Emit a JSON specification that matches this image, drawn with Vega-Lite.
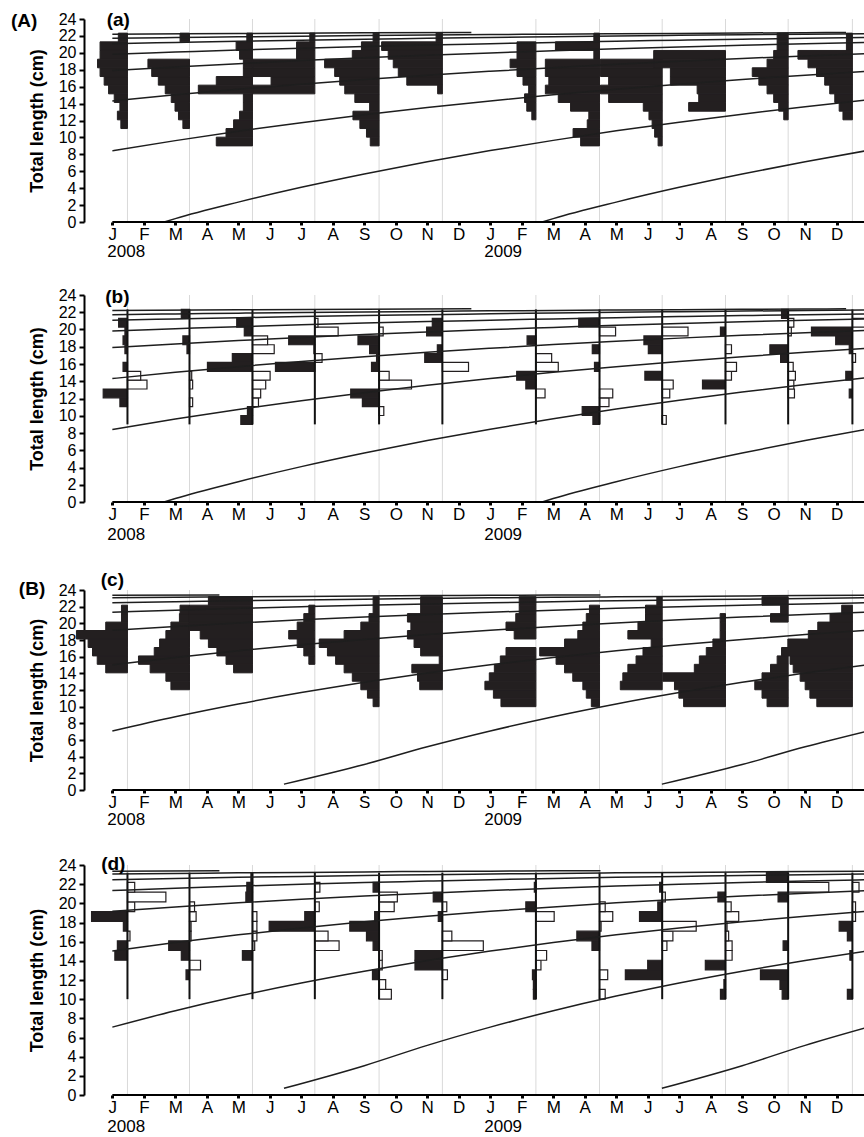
{
"$schema": "https://vega.github.io/schema/vega-lite/v6.json",
"padding": {"left": 10, "top": 11, "right": 0, "bottom": 2},
"spacing": 27,
"config": {"font": "Liberation Sans", "view": {"stroke": null},
 "axis": {"labelFont": "Liberation Sans", "titleFont": "Liberation Sans", "labelOverlap": false, "labelFlush": false, "grid": false, "labelColor": "#000", "tickColor": "#000", "titleColor": "#000"},
 "axisX": {"domain": false, "tickSize": 3, "tickWidth": 3, "labelPadding": 1, "labelFontSize": 17},
 "axisY": {"domain": true, "domainColor": "#000", "domainWidth": 2, "tickSize": 5, "tickWidth": 2, "labelPadding": 3, "labelFontSize": 16, "titleFontSize": 18, "titleFontWeight": "bold", "titlePadding": 12}},
"datasets": {
"samples": [{"s":0.48},{"s":2.45},{"s":4.45},{"s":6.43},{"s":8.47},{"s":10.48},{"s":13.45},{"s":15.47},{"s":17.46},{"s":19.47},{"s":21.46},{"s":23.5}],
"cls": [
{"g":"AB","lo":[9,10.03,11.05,12.08,13.1,14.13,15.15,16.18,17.2,18.23,19.25,20.28,21.3],"hi":[10.03,11.05,12.08,13.1,14.13,15.15,16.18,17.2,18.23,19.25,20.28,21.3,22.33]},
{"g":"CD","lo":[10,11.02,12.03,13.05,14.06,15.08,16.09,17.1,18.12,19.14,20.15,21.17,22.18],"hi":[11.02,12.03,13.05,14.06,15.08,16.09,17.1,18.12,19.14,20.15,21.17,22.18,23.2]}
],
"bars": [
{"p":"a","g":"AB","s":0.48,"f":[0,0,0.21,0.32,0.24,0.42,0.6,0.74,0.87,0.95,0.87,0.87,0.29]},
{"p":"a","g":"AB","s":2.45,"f":[0,0,0.21,0.35,0.46,0.58,0.77,0.99,1.2,1.32,0,0,0.3]},
{"p":"a","g":"AB","s":4.45,"f":[1.15,0.84,0.6,0.41,0.29,0.29,1.72,1.15,0.29,0.29,0.41,0.52,0.18]},
{"p":"a","g":"AB","s":6.43,"f":[0,0,0,0,0,0,1.97,1.39,1.97,1.97,0.58,0.58,0.16]},
{"p":"a","g":"AB","s":8.47,"f":[0.28,0.4,0.61,0.83,0.3,0.77,1.09,1.25,1.41,1.73,0.85,0.56,0.19]},
{"p":"a","g":"AB","s":10.48,"f":[0,0,0,0,0,0,0.15,1.13,1.4,1.56,1.72,1.93,0.2]},
{"p":"a","g":"AB","s":13.45,"f":[0,0,0,0.13,0.29,0.36,0.23,0.41,0.6,0.82,0.6,0.6,0]},
{"p":"a","g":"AB","s":15.47,"f":[0.6,0.84,0.39,0.34,0.92,1.31,1.72,1.61,1.72,1.72,0.18,1.4,0.18]},
{"p":"a","g":"AB","s":17.46,"f":[0.13,0.24,0.32,0.42,0.6,1.7,1.96,1.7,1.96,1.96,0,0,0]},
{"p":"a","g":"AB","s":19.47,"f":[0,0,0,0,1.17,0.85,0.9,1.75,1.75,2.28,2.28,0,0]},
{"p":"a","g":"AB","s":21.46,"f":[0,0,0,0.14,0.3,0.46,0.67,0.93,1.14,0.67,0.46,0.35,0.35]},
{"p":"a","g":"AB","s":23.5,"f":[0,0,0,0.3,0.42,0.56,0.72,0.88,1.14,1.41,1.73,0.19,0.19]},
{"p":"b","g":"AB","s":0.48,"f":[0,0,0.24,0.77,-0.62,-0.42,0.14,0,0.08,0.14,0.08,0.28,0]},
{"p":"b","g":"AB","s":2.45,"f":[0,0,-0.1,0,-0.1,-0.07,0,0,0.08,0.21,0,0,0.26]},
{"p":"b","g":"AB","s":4.45,"f":[0.37,0.16,-0.19,-0.26,-0.42,-0.56,1.43,0.64,-0.69,-0.48,0.26,0.5,0]},
{"p":"b","g":"AB","s":6.43,"f":[0,0,0,0,0,0,1.25,-0.23,0.03,0.83,-0.74,-0.1,0]},
{"p":"b","g":"AB","s":8.47,"f":[0,-0.15,0.53,0.9,-1.03,-0.32,0.24,0.08,0.3,0.67,-0.13,0,0]},
{"p":"b","g":"AB","s":10.48,"f":[0,0,0,0,0,0,-0.83,0.56,0.16,0,0.5,0.32,0]},
{"p":"b","g":"AB","s":13.45,"f":[0,0,0,-0.29,0.32,0.61,-0.71,-0.5,0,0.28,0,0,0]},
{"p":"b","g":"AB","s":15.47,"f":[0.21,0.55,-0.3,-0.42,0,0,0.16,0,0.23,0,-0.51,0.66,0]},
{"p":"b","g":"AB","s":17.46,"f":[-0.13,0,0,-0.24,-0.35,0.55,0,0,0.44,0.58,-0.82,0,0]},
{"p":"b","g":"AB","s":19.47,"f":[0,0,0,0,0.73,-0.19,-0.35,0,-0.19,0,0.16,0,0]},
{"p":"b","g":"AB","s":21.46,"f":[0,0,0,-0.2,-0.18,-0.23,-0.16,0.24,0.58,0,-0.1,-0.18,0.21]},
{"p":"b","g":"AB","s":23.5,"f":[0,0,0,0.1,0,0.21,0,-0.1,0.1,0.53,1.3,-0.48,0]},
{"p":"c","g":"CD","s":0.48,"f":[0,0,0,0,0.69,0.96,1.11,1.25,1.62,0.69,0.19,0.19,0]},
{"p":"c","g":"CD","s":2.45,"f":[0,0,0.59,0.75,1.25,1.62,1.12,0.95,0.75,0.59,0.32,0.3,0]},
{"p":"c","g":"CD","s":4.45,"f":[0,0,0,0,0.6,0.84,1.13,1.4,1.66,2.0,2.0,2.0,1.4]},
{"p":"c","g":"CD","s":6.43,"f":[0,0,0,0,0,0.19,0.35,0.56,0.83,0.56,0.35,0.19,0]},
{"p":"c","g":"CD","s":8.47,"f":[0.19,0.37,0.58,0.85,1.11,1.38,1.64,1.9,1.11,0.58,0.32,0.19,0.19]},
{"p":"c","g":"CD","s":10.48,"f":[0,0,0.72,0.79,0.97,0.1,0.69,0.9,1.11,1.0,1.11,0.69,0.69]},
{"p":"c","g":"CD","s":13.45,"f":[1.11,1.35,1.62,1.48,1.32,1.13,0.95,0,0.69,0.95,0.64,0.53,0.53]},
{"p":"c","g":"CD","s":15.47,"f":[0.26,0.42,0.53,0.85,1.11,1.38,1.9,1.11,0.69,0.53,0.42,0.32,0]},
{"p":"c","g":"CD","s":17.46,"f":[0,0,1.33,1.25,1.09,0.83,0.61,0.35,1.09,0.77,0.53,0.53,0.17]},
{"p":"c","g":"CD","s":19.47,"f":[1.33,1.48,1.62,1.99,0.99,0.83,0.61,0.4,0.17,0.17,0.17,0,0]},
{"p":"c","g":"CD","s":21.46,"f":[0.67,0.83,1.06,0.83,0.56,0.35,0,0,0,0,0.56,0.24,0.83]},
{"p":"c","g":"CD","s":23.5,"f":[1.13,1.35,1.5,1.66,1.88,1.98,2.25,2.05,1.4,1.1,0.71,0.34,0]},
{"p":"d","g":"CD","s":0.48,"f":[0,0,0,0,0.4,0.32,-0.08,0.13,1.14,-0.23,-1.22,-0.23,0]},
{"p":"d","g":"CD","s":2.45,"f":[0,0,0.11,-0.35,0.26,0.66,-0.05,-0.05,-0.21,-0.16,0,0,0]},
{"p":"d","g":"CD","s":4.45,"f":[0,0,0,0,0.32,-0.07,-0.14,-0.14,-0.14,0,0.21,0.18,0.05]},
{"p":"d","g":"CD","s":6.43,"f":[0,0,0,0,0,-0.77,-0.42,1.45,0.32,-0.14,0,-0.16,0]},
{"p":"d","g":"CD","s":8.47,"f":[-0.39,-0.21,0.21,-0.1,-0.1,0.19,0.4,0.93,0.14,-0.48,-0.58,0.19,0]},
{"p":"d","g":"CD","s":10.48,"f":[0,0,-0.16,0.87,0.87,-1.3,-0.3,0,0.13,-0.14,0.29,0,0]},
{"p":"d","g":"CD","s":13.45,"f":[0.08,0.08,0.11,-0.16,-0.34,0,0,0,-0.58,0.32,0,0.05,0]},
{"p":"d","g":"CD","s":15.47,"f":[-0.18,0,-0.26,0,0,0.24,0.72,-0.05,-0.42,-0.18,0,0,0]},
{"p":"d","g":"CD","s":17.46,"f":[0,0,1.17,0.46,0,-0.15,-0.34,-1.08,0.72,0.14,-0.1,0.08,0]},
{"p":"d","g":"CD","s":19.47,"f":[0.16,0.05,0,0.64,-0.21,-0.21,-0.1,-0.05,-0.42,-0.18,0.24,0,0]},
{"p":"d","g":"CD","s":21.46,"f":[0.19,0.26,0.88,0,0,0.16,0,0,0,0,0.32,-1.29,0.69]},
{"p":"d","g":"CD","s":23.5,"f":[0.16,0,0,0,0.08,0,0.16,0.42,-0.1,-0.1,0,-0.21,0]}
],
"curves": [
{"g":"AB","c":"2001","t":[0,4,8,11.4],"L":[22.2,22.28,22.36,22.4]},
{"g":"AB","c":"2002","t":[0,2,4,6,8,10,12,14,16,18,20,22,23.3],"L":[21.72,21.81,21.89,21.97,22.04,22.1,22.16,22.21,22.26,22.3,22.35,22.38,22.4]},
{"g":"AB","c":"2003","t":[0,2,4,6,8,10,12,14,16,18,20,22,23.9],"L":[21.08,21.23,21.37,21.5,21.61,21.72,21.82,21.91,21.99,22.07,22.14,22.2,22.26]},
{"g":"AB","c":"2004","t":[0,2,4,6,8,10,12,14,16,18,20,22,23.9],"L":[19.84,20.09,20.33,20.54,20.74,20.92,21.08,21.23,21.37,21.5,21.61,21.72,21.81]},
{"g":"AB","c":"2005","t":[0,2,4,6,8,10,12,14,16,18,20,22,23.9],"L":[17.9,18.33,18.72,19.08,19.41,19.71,19.99,20.24,20.48,20.69,20.89,21.07,21.22]},
{"g":"AB","c":"2006","t":[0,2,4,6,8,10,12,14,16,18,20,22,23.9],"L":[14.31,15.03,15.69,16.3,16.85,17.36,17.82,18.25,18.64,19.0,19.33,19.63,19.9]},
{"g":"AB","c":"2007","t":[0,2,4,6,8,10,12,14,16,18,20,22,23.9],"L":[8.41,9.62,10.73,11.74,12.68,13.53,14.31,15.03,15.69,16.3,16.85,17.36,17.81]},
{"g":"AB","c":"2008","t":[1.65,2,4,6,8,10,12,14,16,18,20,22,23.9],"L":[0,0.4,2.35,4.1,5.68,7.12,8.44,9.65,10.78,11.8,12.75,13.62,14.4]},
{"g":"AB","c":"2009","t":[13.65,14,16,18,20,22,23.9],"L":[0,0.4,2.35,4.1,5.68,7.12,8.4]},
{"g":"CD","c":"2001","t":[0,3.4],"L":[23.36,23.4]},
{"g":"CD","c":"2002","t":[0,2,4,6,8,10,12,14,15.5],"L":[23.06,23.12,23.18,23.23,23.28,23.33,23.36,23.39,23.41]},
{"g":"CD","c":"2003","t":[0,2,4,6,8,10,12,14,16,18,20,22,23.9],"L":[22.47,22.59,22.71,22.81,22.9,22.98,23.06,23.12,23.18,23.23,23.28,23.33,23.36]},
{"g":"CD","c":"2004","t":[0,2,4,6,8,10,12,14,16,18,20,22,23.9],"L":[21.33,21.58,21.8,21.99,22.17,22.32,22.47,22.59,22.71,22.81,22.9,22.98,23.06]},
{"g":"CD","c":"2005","t":[0,2,4,6,8,10,12,14,16,18,20,22,23.9],"L":[19.17,19.63,20.05,20.43,20.76,21.06,21.33,21.58,21.8,21.99,22.17,22.32,22.46]},
{"g":"CD","c":"2006","t":[0,2,4,6,8,10,12,14,16,18,20,22,23.9],"L":[15.02,15.91,16.71,17.43,18.07,18.65,19.17,19.63,20.05,20.43,20.76,21.06,21.32]},
{"g":"CD","c":"2007","t":[0,2,4,6,8,10,12,14,16,18,20,22,23.9],"L":[7.08,8.79,10.32,11.69,12.92,14.03,15.02,15.91,16.71,17.43,18.07,18.65,19.15]},
{"g":"CD","c":"2008","t":[5.45,8,10,12,14,16,18,20,22,23.9],"L":[0.7,3.06,5.18,7.08,8.79,10.32,11.69,12.92,14.03,14.99]},
{"g":"CD","c":"2009","t":[17.45,20,22,23.9],"L":[0.7,3.06,5.18,6.99]}
]
},
"vconcat": [
{
"width": 781, "height": 203,
"layer": [
{"data": {"name": "curves"}, "transform": [{"filter": "datum.g === 'AB'"}, {"flatten": ["t", "L"]}],
 "mark": {"type": "line", "opacity": 0},
 "encoding": {
  "x": {"field": "t", "type": "quantitative", "scale": {"domain": [-0.9, 23.9]}, "axis": {"values": [0,1,2,3,4,5,6,7,8,9,10,11,12,13,14,15,16,17,18,19,20,21,22,23], "tickCount": 40, "labelExpr": "['J','F','M','A','M','J','J','A','S','O','N','D'][datum.value % 12]", "title": null}},
  "y": {"field": "L", "type": "quantitative", "scale": {"domain": [0, 24]}, "axis": {"values": [0,2,4,6,8,10,12,14,16,18,20,22,24], "tickCount": 40, "format": "d", "title": "Total length (cm)"}},
  "detail": {"field": "c", "type": "nominal"}}},
{"data": {"name": "samples"}, "mark": {"type": "rule", "color": "#d9d9d9", "strokeWidth": 1},
 "encoding": {"x": {"field": "s", "type": "quantitative", "scale": {"domain": [-0.9, 23.9]}}, "y": {"datum": 0, "type": "quantitative", "scale": {"domain": [0, 24]}}, "y2": {"datum": 24}}},
{"data": {"name": "bars"},
 "transform": [{"filter": "datum.p === 'a'"}, {"lookup": "g", "from": {"data": {"name": "cls"}, "key": "g", "fields": ["lo", "hi"]}}, {"flatten": ["f", "lo", "hi"]}, {"filter": "datum.f !== 0"}, {"calculate": "datum.s - datum.f", "as": "e"}],
 "mark": {"type": "rect", "stroke": "#231f20", "strokeWidth": 1},
 "encoding": {"x": {"field": "s", "type": "quantitative", "scale": {"domain": [-0.9, 23.9]}}, "x2": {"field": "e"}, "y": {"field": "lo", "type": "quantitative", "scale": {"domain": [0, 24]}}, "y2": {"field": "hi"},
  "fill": {"condition": {"test": "datum.f > 0", "value": "#231f20"}, "value": "#ffffff"}}},
{"data": {"name": "curves"}, "transform": [{"filter": "datum.g === 'AB'"}, {"flatten": ["t", "L"]}],
 "mark": {"type": "line", "color": "#1e1e1e", "strokeWidth": 1.5, "interpolate": "monotone"},
 "encoding": {"x": {"field": "t", "type": "quantitative", "scale": {"domain": [-0.9, 23.9]}}, "y": {"field": "L", "type": "quantitative", "scale": {"domain": [0, 24]}}, "detail": {"field": "c", "type": "nominal"}}},
{"data": {"values": [{}]}, "mark": {"type": "rule", "color": "#000", "strokeWidth": 2},
 "encoding": {"x": {"datum": 0, "type": "quantitative", "scale": {"domain": [-0.9, 23.9]}}, "x2": {"datum": 23.9}, "y": {"datum": 0, "type": "quantitative", "scale": {"domain": [0, 24]}}}},
{"data": {"values": [{}]}, "mark": {"type": "text", "fontSize": 19, "fontWeight": "bold", "color": "#000", "align": "center", "baseline": "middle"},
 "encoding": {"x": {"datum": 0.19, "type": "quantitative", "scale": {"domain": [-0.9, 23.9]}}, "y": {"datum": 23.88, "type": "quantitative", "scale": {"domain": [0, 24]}}, "text": {"value": "(a)"}}},
{"data": {"values": [{}]}, "mark": {"type": "text", "fontSize": 19, "fontWeight": "bold", "color": "#000", "align": "center", "baseline": "middle"},
 "encoding": {"x": {"datum": -2.8, "type": "quantitative", "scale": {"domain": [-0.9, 23.9]}}, "y": {"datum": 23.76, "type": "quantitative", "scale": {"domain": [0, 24]}}, "text": {"value": "(A)"}}},
{"data": {"values": [{}]}, "mark": {"type": "text", "fontSize": 17, "color": "#000", "align": "left", "baseline": "top", "dx": -5, "dy": 22},
 "encoding": {"x": {"datum": 0, "type": "quantitative", "scale": {"domain": [-0.9, 23.9]}}, "y": {"datum": 0, "type": "quantitative", "scale": {"domain": [0, 24]}}, "text": {"value": "2008"}}},
{"data": {"values": [{}]}, "mark": {"type": "text", "fontSize": 17, "color": "#000", "align": "left", "baseline": "top", "dx": -6, "dy": 22},
 "encoding": {"x": {"datum": 12, "type": "quantitative", "scale": {"domain": [-0.9, 23.9]}}, "y": {"datum": 0, "type": "quantitative", "scale": {"domain": [0, 24]}}, "text": {"value": "2009"}}}
]
},
{
"width": 781, "height": 207,
"layer": [
{"data": {"name": "curves"}, "transform": [{"filter": "datum.g === 'AB'"}, {"flatten": ["t", "L"]}],
 "mark": {"type": "line", "opacity": 0},
 "encoding": {
  "x": {"field": "t", "type": "quantitative", "scale": {"domain": [-0.9, 23.9]}, "axis": {"values": [0,1,2,3,4,5,6,7,8,9,10,11,12,13,14,15,16,17,18,19,20,21,22,23], "tickCount": 40, "labelExpr": "['J','F','M','A','M','J','J','A','S','O','N','D'][datum.value % 12]", "title": null}},
  "y": {"field": "L", "type": "quantitative", "scale": {"domain": [0, 24]}, "axis": {"values": [0,2,4,6,8,10,12,14,16,18,20,22,24], "tickCount": 40, "format": "d", "title": "Total length (cm)"}},
  "detail": {"field": "c", "type": "nominal"}}},
{"data": {"name": "samples"}, "mark": {"type": "rule", "color": "#d9d9d9", "strokeWidth": 1},
 "encoding": {"x": {"field": "s", "type": "quantitative", "scale": {"domain": [-0.9, 23.9]}}, "y": {"datum": 0, "type": "quantitative", "scale": {"domain": [0, 24]}}, "y2": {"datum": 24}}},
{"data": {"name": "bars"},
 "transform": [{"filter": "datum.p === 'b'"}, {"lookup": "g", "from": {"data": {"name": "cls"}, "key": "g", "fields": ["lo", "hi"]}}, {"flatten": ["f", "lo", "hi"]}, {"filter": "datum.f !== 0"}, {"calculate": "datum.s - datum.f", "as": "e"}],
 "mark": {"type": "rect", "stroke": "#231f20", "strokeWidth": 1.2},
 "encoding": {"x": {"field": "s", "type": "quantitative", "scale": {"domain": [-0.9, 23.9]}}, "x2": {"field": "e"}, "y": {"field": "lo", "type": "quantitative", "scale": {"domain": [0, 24]}}, "y2": {"field": "hi"},
  "fill": {"condition": {"test": "datum.f > 0", "value": "#231f20"}, "value": "#ffffff"}}},
{"data": {"name": "samples"}, "mark": {"type": "rule", "color": "#111", "strokeWidth": 2},
 "encoding": {"x": {"field": "s", "type": "quantitative", "scale": {"domain": [-0.9, 23.9]}}, "y": {"datum": 9, "type": "quantitative", "scale": {"domain": [0, 24]}}, "y2": {"datum": 22.33}}},
{"data": {"name": "curves"}, "transform": [{"filter": "datum.g === 'AB'"}, {"flatten": ["t", "L"]}],
 "mark": {"type": "line", "color": "#1e1e1e", "strokeWidth": 1.5, "interpolate": "monotone"},
 "encoding": {"x": {"field": "t", "type": "quantitative", "scale": {"domain": [-0.9, 23.9]}}, "y": {"field": "L", "type": "quantitative", "scale": {"domain": [0, 24]}}, "detail": {"field": "c", "type": "nominal"}}},
{"data": {"values": [{}]}, "mark": {"type": "rule", "color": "#000", "strokeWidth": 2},
 "encoding": {"x": {"datum": 0, "type": "quantitative", "scale": {"domain": [-0.9, 23.9]}}, "x2": {"datum": 23.9}, "y": {"datum": 0, "type": "quantitative", "scale": {"domain": [0, 24]}}}},
{"data": {"values": [{}]}, "mark": {"type": "text", "fontSize": 19, "fontWeight": "bold", "color": "#000", "align": "center", "baseline": "middle"},
 "encoding": {"x": {"datum": 0.16, "type": "quantitative", "scale": {"domain": [-0.9, 23.9]}}, "y": {"datum": 23.77, "type": "quantitative", "scale": {"domain": [0, 24]}}, "text": {"value": "(b)"}}},
{"data": {"values": [{}]}, "mark": {"type": "text", "fontSize": 17, "color": "#000", "align": "left", "baseline": "top", "dx": -5, "dy": 25},
 "encoding": {"x": {"datum": 0, "type": "quantitative", "scale": {"domain": [-0.9, 23.9]}}, "y": {"datum": 0, "type": "quantitative", "scale": {"domain": [0, 24]}}, "text": {"value": "2008"}}},
{"data": {"values": [{}]}, "mark": {"type": "text", "fontSize": 17, "color": "#000", "align": "left", "baseline": "top", "dx": -6, "dy": 25},
 "encoding": {"x": {"datum": 12, "type": "quantitative", "scale": {"domain": [-0.9, 23.9]}}, "y": {"datum": 0, "type": "quantitative", "scale": {"domain": [0, 24]}}, "text": {"value": "2009"}}}
]
},
{
"width": 781, "height": 200,
"layer": [
{"data": {"name": "curves"}, "transform": [{"filter": "datum.g === 'CD'"}, {"flatten": ["t", "L"]}],
 "mark": {"type": "line", "opacity": 0},
 "encoding": {
  "x": {"field": "t", "type": "quantitative", "scale": {"domain": [-0.9, 23.9]}, "axis": {"values": [0,1,2,3,4,5,6,7,8,9,10,11,12,13,14,15,16,17,18,19,20,21,22,23], "tickCount": 40, "labelExpr": "['J','F','M','A','M','J','J','A','S','O','N','D'][datum.value % 12]", "title": null}},
  "y": {"field": "L", "type": "quantitative", "scale": {"domain": [0, 24]}, "axis": {"values": [0,2,4,6,8,10,12,14,16,18,20,22,24], "tickCount": 40, "format": "d", "title": "Total length (cm)"}},
  "detail": {"field": "c", "type": "nominal"}}},
{"data": {"name": "samples"}, "mark": {"type": "rule", "color": "#d9d9d9", "strokeWidth": 1},
 "encoding": {"x": {"field": "s", "type": "quantitative", "scale": {"domain": [-0.9, 23.9]}}, "y": {"datum": 0, "type": "quantitative", "scale": {"domain": [0, 24]}}, "y2": {"datum": 24}}},
{"data": {"name": "bars"},
 "transform": [{"filter": "datum.p === 'c'"}, {"lookup": "g", "from": {"data": {"name": "cls"}, "key": "g", "fields": ["lo", "hi"]}}, {"flatten": ["f", "lo", "hi"]}, {"filter": "datum.f !== 0"}, {"calculate": "datum.s - datum.f", "as": "e"}],
 "mark": {"type": "rect", "stroke": "#231f20", "strokeWidth": 1},
 "encoding": {"x": {"field": "s", "type": "quantitative", "scale": {"domain": [-0.9, 23.9]}}, "x2": {"field": "e"}, "y": {"field": "lo", "type": "quantitative", "scale": {"domain": [0, 24]}}, "y2": {"field": "hi"},
  "fill": {"condition": {"test": "datum.f > 0", "value": "#231f20"}, "value": "#ffffff"}}},
{"data": {"name": "curves"}, "transform": [{"filter": "datum.g === 'CD'"}, {"flatten": ["t", "L"]}],
 "mark": {"type": "line", "color": "#1e1e1e", "strokeWidth": 1.5, "interpolate": "monotone"},
 "encoding": {"x": {"field": "t", "type": "quantitative", "scale": {"domain": [-0.9, 23.9]}}, "y": {"field": "L", "type": "quantitative", "scale": {"domain": [0, 24]}}, "detail": {"field": "c", "type": "nominal"}}},
{"data": {"values": [{}]}, "mark": {"type": "rule", "color": "#000", "strokeWidth": 2},
 "encoding": {"x": {"datum": 0, "type": "quantitative", "scale": {"domain": [-0.9, 23.9]}}, "x2": {"datum": 23.9}, "y": {"datum": 0, "type": "quantitative", "scale": {"domain": [0, 24]}}}},
{"data": {"values": [{}]}, "mark": {"type": "text", "fontSize": 19, "fontWeight": "bold", "color": "#000", "align": "center", "baseline": "middle"},
 "encoding": {"x": {"datum": 0.0, "type": "quantitative", "scale": {"domain": [-0.9, 23.9]}}, "y": {"datum": 25.2, "type": "quantitative", "scale": {"domain": [0, 24]}}, "text": {"value": "(c)"}}},
{"data": {"values": [{}]}, "mark": {"type": "text", "fontSize": 19, "fontWeight": "bold", "color": "#000", "align": "center", "baseline": "middle"},
 "encoding": {"x": {"datum": -2.55, "type": "quantitative", "scale": {"domain": [-0.9, 23.9]}}, "y": {"datum": 24.12, "type": "quantitative", "scale": {"domain": [0, 24]}}, "text": {"value": "(B)"}}},
{"data": {"values": [{}]}, "mark": {"type": "text", "fontSize": 17, "color": "#000", "align": "left", "baseline": "top", "dx": -5, "dy": 22},
 "encoding": {"x": {"datum": 0, "type": "quantitative", "scale": {"domain": [-0.9, 23.9]}}, "y": {"datum": 0, "type": "quantitative", "scale": {"domain": [0, 24]}}, "text": {"value": "2008"}}},
{"data": {"values": [{}]}, "mark": {"type": "text", "fontSize": 17, "color": "#000", "align": "left", "baseline": "top", "dx": -6, "dy": 22},
 "encoding": {"x": {"datum": 12, "type": "quantitative", "scale": {"domain": [-0.9, 23.9]}}, "y": {"datum": 0, "type": "quantitative", "scale": {"domain": [0, 24]}}, "text": {"value": "2009"}}}
]
},
{
"width": 781, "height": 230,
"layer": [
{"data": {"name": "curves"}, "transform": [{"filter": "datum.g === 'CD'"}, {"flatten": ["t", "L"]}],
 "mark": {"type": "line", "opacity": 0},
 "encoding": {
  "x": {"field": "t", "type": "quantitative", "scale": {"domain": [-0.9, 23.9]}, "axis": {"values": [0,1,2,3,4,5,6,7,8,9,10,11,12,13,14,15,16,17,18,19,20,21,22,23], "tickCount": 40, "labelExpr": "['J','F','M','A','M','J','J','A','S','O','N','D'][datum.value % 12]", "title": null}},
  "y": {"field": "L", "type": "quantitative", "scale": {"domain": [0, 24]}, "axis": {"values": [0,2,4,6,8,10,12,14,16,18,20,22,24], "tickCount": 40, "format": "d", "title": "Total length (cm)"}},
  "detail": {"field": "c", "type": "nominal"}}},
{"data": {"name": "samples"}, "mark": {"type": "rule", "color": "#d9d9d9", "strokeWidth": 1},
 "encoding": {"x": {"field": "s", "type": "quantitative", "scale": {"domain": [-0.9, 23.9]}}, "y": {"datum": 0, "type": "quantitative", "scale": {"domain": [0, 24]}}, "y2": {"datum": 24}}},
{"data": {"name": "bars"},
 "transform": [{"filter": "datum.p === 'd'"}, {"lookup": "g", "from": {"data": {"name": "cls"}, "key": "g", "fields": ["lo", "hi"]}}, {"flatten": ["f", "lo", "hi"]}, {"filter": "datum.f !== 0"}, {"calculate": "datum.s - datum.f", "as": "e"}],
 "mark": {"type": "rect", "stroke": "#231f20", "strokeWidth": 1.2},
 "encoding": {"x": {"field": "s", "type": "quantitative", "scale": {"domain": [-0.9, 23.9]}}, "x2": {"field": "e"}, "y": {"field": "lo", "type": "quantitative", "scale": {"domain": [0, 24]}}, "y2": {"field": "hi"},
  "fill": {"condition": {"test": "datum.f > 0", "value": "#231f20"}, "value": "#ffffff"}}},
{"data": {"name": "samples"}, "mark": {"type": "rule", "color": "#111", "strokeWidth": 2},
 "encoding": {"x": {"field": "s", "type": "quantitative", "scale": {"domain": [-0.9, 23.9]}}, "y": {"datum": 10, "type": "quantitative", "scale": {"domain": [0, 24]}}, "y2": {"datum": 23.2}}},
{"data": {"name": "curves"}, "transform": [{"filter": "datum.g === 'CD'"}, {"flatten": ["t", "L"]}],
 "mark": {"type": "line", "color": "#1e1e1e", "strokeWidth": 1.5, "interpolate": "monotone"},
 "encoding": {"x": {"field": "t", "type": "quantitative", "scale": {"domain": [-0.9, 23.9]}}, "y": {"field": "L", "type": "quantitative", "scale": {"domain": [0, 24]}}, "detail": {"field": "c", "type": "nominal"}}},
{"data": {"values": [{}]}, "mark": {"type": "rule", "color": "#000", "strokeWidth": 2},
 "encoding": {"x": {"datum": 0, "type": "quantitative", "scale": {"domain": [-0.9, 23.9]}}, "x2": {"datum": 23.9}, "y": {"datum": 0, "type": "quantitative", "scale": {"domain": [0, 24]}}}},
{"data": {"values": [{}]}, "mark": {"type": "text", "fontSize": 19, "fontWeight": "bold", "color": "#000", "align": "center", "baseline": "middle"},
 "encoding": {"x": {"datum": 0.03, "type": "quantitative", "scale": {"domain": [-0.9, 23.9]}}, "y": {"datum": 24.1, "type": "quantitative", "scale": {"domain": [0, 24]}}, "text": {"value": "(d)"}}},
{"data": {"values": [{}]}, "mark": {"type": "text", "fontSize": 17, "color": "#000", "align": "left", "baseline": "top", "dx": -5, "dy": 24},
 "encoding": {"x": {"datum": 0, "type": "quantitative", "scale": {"domain": [-0.9, 23.9]}}, "y": {"datum": 0, "type": "quantitative", "scale": {"domain": [0, 24]}}, "text": {"value": "2008"}}},
{"data": {"values": [{}]}, "mark": {"type": "text", "fontSize": 17, "color": "#000", "align": "left", "baseline": "top", "dx": -6, "dy": 24},
 "encoding": {"x": {"datum": 12, "type": "quantitative", "scale": {"domain": [-0.9, 23.9]}}, "y": {"datum": 0, "type": "quantitative", "scale": {"domain": [0, 24]}}, "text": {"value": "2009"}}}
]
}
]
}
